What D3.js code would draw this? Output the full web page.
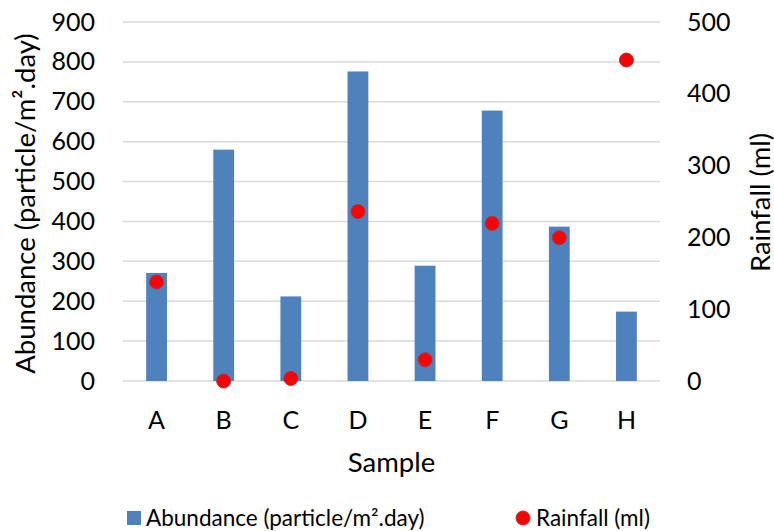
<!DOCTYPE html>
<html>
<head>
<meta charset="utf-8">
<script src="https://cdn.jsdelivr.net/npm/d3@7"></script>
<style>
  body { margin: 0; background: #fff; }
  text { font-family: Lato, "Open Sans", sans-serif; fill: #000; }
</style>
</head>
<body>
<svg id="chart" width="774" height="531"></svg>
<script>
// data
const samples = ['A', 'B', 'C', 'D', 'E', 'F', 'G', 'H'];
const abundance = [271, 580, 212, 776, 289, 678, 387, 174];
const rainfall = [138, 0, 3.5, 236, 29.5, 219.5, 199.6, 447];
const leftTicks = [0, 100, 200, 300, 400, 500, 600, 700, 800, 900];
const rightTicks = [0, 100, 200, 300, 400, 500];

const margin = { top: 22, right: 114, bottom: 150, left: 123 };
const width = 774, height = 531;
const innerWidth = width - margin.left - margin.right;
const innerHeight = height - margin.top - margin.bottom;
const fontsize = 25;
const titlesize = 27.5;

const svg = d3.select('#chart');
const g = svg.append('g').attr('transform', `translate(${margin.left},${margin.top})`);

const x = d3.scaleBand().domain(samples).range([0, innerWidth]).paddingInner(0.69).paddingOuter(0.345);
const yL = d3.scaleLinear().domain([0, 900]).range([innerHeight, 0]);
const yR = d3.scaleLinear().domain([0, 500]).range([innerHeight, 0]);

// gridlines
g.selectAll('.grid').data(leftTicks).enter()
  .append('line')
  .attr('x1', 0).attr('x2', innerWidth)
  .attr('y1', d => yL(d)).attr('y2', d => yL(d))
  .attr('stroke', '#d9d9d9').attr('stroke-width', 1.5);

// left axis
const leftAxis = g.append('g')
  .call(d3.axisLeft(yL).tickValues(leftTicks).tickSize(0).tickPadding(28));
leftAxis.select('.domain').remove();
leftAxis.selectAll('text').style('font-size', fontsize);

// right axis
const rightAxis = g.append('g')
  .attr('transform', `translate(${innerWidth},0)`)
  .call(d3.axisRight(yR).tickValues(rightTicks).tickSize(0).tickPadding(27));
rightAxis.select('.domain').remove();
rightAxis.selectAll('text').style('font-size', fontsize);

// bottom axis
const xAxis = g.append('g')
  .attr('transform', `translate(0,${innerHeight})`)
  .call(d3.axisBottom(x).tickSize(0).tickPadding(30));
xAxis.select('.domain').remove();
xAxis.selectAll('text').style('font-size', fontsize);

// bars
g.selectAll('.bar').data(samples).enter()
  .append('rect')
  .attr('x', d => x(d))
  .attr('width', x.bandwidth())
  .attr('y', (d, i) => yL(abundance[i]))
  .attr('height', (d, i) => innerHeight - yL(abundance[i]))
  .attr('fill', '#4f81bd');

// rainfall dots
g.selectAll('.dot').data(samples).enter()
  .append('circle')
  .attr('cx', d => x(d) + x.bandwidth() / 2)
  .attr('cy', (d, i) => yR(rainfall[i]))
  .attr('r', 7)
  .attr('fill', '#ff0000')
  .attr('stroke', '#a33b3b').attr('stroke-width', 1);

// axis titles
g.append('text')
  .attr('transform', `translate(${25 - margin.left},${innerHeight / 2 + 2}) rotate(-90)`)
  .attr('text-anchor', 'middle').attr('dy', '0.35em')
  .style('font-size', titlesize)
  .text('Abundance (particle/m\u00b2.day)');

g.append('text')
  .attr('transform', `translate(${innerWidth + 100},${innerHeight / 2 + 1}) rotate(-90)`)
  .attr('text-anchor', 'middle').attr('dy', '0.35em')
  .style('font-size', titlesize)
  .text('Rainfall (ml)');

g.append('text')
  .attr('x', innerWidth / 2).attr('y', innerHeight + 81)
  .attr('text-anchor', 'middle').attr('dy', '0.35em')
  .style('font-size', titlesize)
  .text('Sample');

// legend
const legend = svg.append('g').attr('transform', 'translate(0,518)');
legend.append('rect').attr('x', 127).attr('y', -7).attr('width', 14).attr('height', 14).attr('fill', '#4f81bd');
legend.append('text').attr('x', 146).attr('dy', '0.35em').style('font-size', 22.5)
  .text('Abundance (particle/m\u00b2.day)');
legend.append('circle').attr('cx', 523).attr('cy', 0).attr('r', 7)
  .attr('fill', '#ff0000').attr('stroke', '#a33b3b').attr('stroke-width', 1);
legend.append('text').attr('x', 536).attr('dy', '0.35em').style('font-size', 22.5)
  .text('Rainfall (ml)');
</script>
</body>
</html>
